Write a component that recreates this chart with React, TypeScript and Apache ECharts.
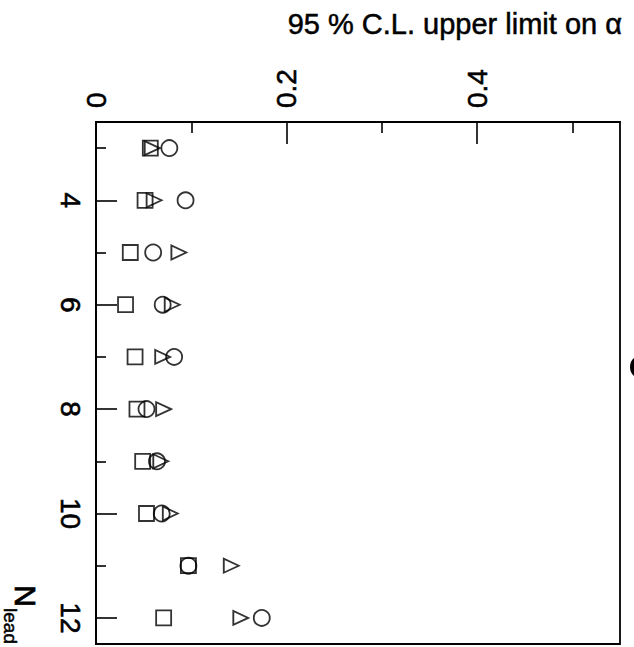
import React, { useEffect, useRef } from "react";
import * as echarts from "echarts";

const nLead = [3, 4, 5, 6, 7, 8, 9, 10, 11, 12];
const squareVals = [0.057, 0.0515, 0.036, 0.031, 0.041, 0.043, 0.049, 0.053, 0.097, 0.071];
const circleVals = [0.077, 0.094, 0.06, 0.07, 0.082, 0.053, 0.064, 0.069, 0.097, 0.174];
const triangleVals = [0.059, 0.061, 0.087, 0.08, 0.07, 0.071, 0.068, 0.078, 0.142, 0.152];

const xMajorTicks = [0.2, 0.4];
const xMinorTicks = [0.1, 0.3, 0.5];
const xLabels = [0, 0.2, 0.4];
const yMajorTicks = [4, 6, 8, 10, 12];
const yMinorTicks = [3, 5, 7, 9, 11];

const titleText = "95 % C.L. upper limit on α";
const yName = "N";
const yNameSub = "lead";

const FONT = "Liberation Sans, Arial, Helvetica, sans-serif";

export default function App() {
  const ref = useRef<HTMLDivElement>(null);
  useEffect(() => {
    if (!ref.current) return;
    const chart = echarts.init(ref.current, null, { renderer: "svg" });
    const black = "#000";
    const markerStyle = { color: "transparent", borderColor: black, borderWidth: 1.8 };
    const mk = (vals: number[]) => vals.map((v, i) => [v, nLead[i]]);
    const xBase = {
      type: "value",
      position: "top",
      min: 0,
      max: 0.55,
      splitLine: { show: false },
    };
    const yBase = {
      type: "value",
      position: "left",
      inverse: true,
      min: 2.5,
      max: 12.5,
      splitLine: { show: false },
    };
    const labelStyle = {
      color: black,
      fontSize: 28,
      fontFamily: FONT,
      textBorderColor: black,
      textBorderWidth: 0.6,
    };
    chart.setOption({
      animation: false,
      backgroundColor: "#fff",
      textStyle: { fontFamily: FONT },
      grid: {
        left: 96,
        top: 122,
        right: 14,
        bottom: 3,
        show: true,
        borderColor: black,
        borderWidth: 1.8,
        backgroundColor: "transparent",
      },
      xAxis: [
        {
          ...xBase,
          axisLine: { show: true, lineStyle: { color: black, width: 1.8 } },
          axisTick: {
            show: true,
            inside: true,
            length: 22,
            customValues: xMajorTicks,
            lineStyle: { color: black, width: 1.6 },
          },
          axisLabel: {
            show: true,
            customValues: xLabels,
            rotate: -90,
            margin: 14,
            ...labelStyle,
          },
        },
        {
          ...xBase,
          axisLine: { show: false },
          axisTick: {
            show: true,
            inside: true,
            length: 11,
            customValues: xMinorTicks,
            lineStyle: { color: black, width: 1.6 },
          },
          axisLabel: { show: false },
        },
      ],
      yAxis: [
        {
          ...yBase,
          axisLine: { show: true, lineStyle: { color: black, width: 1.8 } },
          axisTick: {
            show: true,
            inside: true,
            length: 21,
            customValues: yMajorTicks,
            lineStyle: { color: black, width: 1.6 },
          },
          axisLabel: {
            show: true,
            customValues: yMajorTicks,
            rotate: -90,
            margin: 12,
            ...labelStyle,
          },
        },
        {
          ...yBase,
          axisLine: { show: false },
          axisTick: {
            show: true,
            inside: true,
            length: 10,
            customValues: yMinorTicks,
            lineStyle: { color: black, width: 1.6 },
          },
          axisLabel: { show: false },
        },
      ],
      series: [
        {
          type: "scatter",
          name: "square",
          data: mk(squareVals),
          symbol: "rect",
          symbolSize: 15,
          itemStyle: markerStyle,
        },
        {
          type: "scatter",
          name: "triangle",
          data: mk(triangleVals),
          symbol: "triangle",
          symbolSize: [14, 15],
          symbolRotate: -90,
          itemStyle: markerStyle,
        },
        {
          type: "scatter",
          name: "circle",
          data: mk(circleVals),
          symbol: "circle",
          symbolSize: 16,
          itemStyle: markerStyle,
        },
      ],
      graphic: [
        {
          type: "text",
          x: 622,
          y: 24,
          style: {
            text: titleText,
            fontSize: 29,
            fontFamily: FONT,
            fill: black,
            stroke: black,
            lineWidth: 0.5,
            textAlign: "right",
            textVerticalAlign: "middle",
          },
        },
        {
          type: "text",
          x: 25,
          y: 596,
          rotation: -Math.PI / 2,
          style: {
            text: yName,
            fontSize: 30,
            fontFamily: FONT,
            fill: black,
            stroke: black,
            lineWidth: 0.8,
            textAlign: "center",
            textVerticalAlign: "middle",
          },
        },
        {
          type: "text",
          x: 10,
          y: 626,
          rotation: -Math.PI / 2,
          style: {
            text: yNameSub,
            fontSize: 19,
            fontFamily: FONT,
            fill: black,
            stroke: black,
            lineWidth: 0.5,
            textAlign: "center",
            textVerticalAlign: "middle",
          },
        },
        {
          type: "circle",
          shape: { cx: 642, cy: 367, r: 10 },
          style: { fill: "none", stroke: black, lineWidth: 4 },
        },
      ],
    });
    return () => chart.dispose();
  }, []);
  return (
    <div
      ref={ref}
      style={{ position: "fixed", left: 0, top: 0, width: 634, height: 647, background: "#fff" }}
    />
  );
}
